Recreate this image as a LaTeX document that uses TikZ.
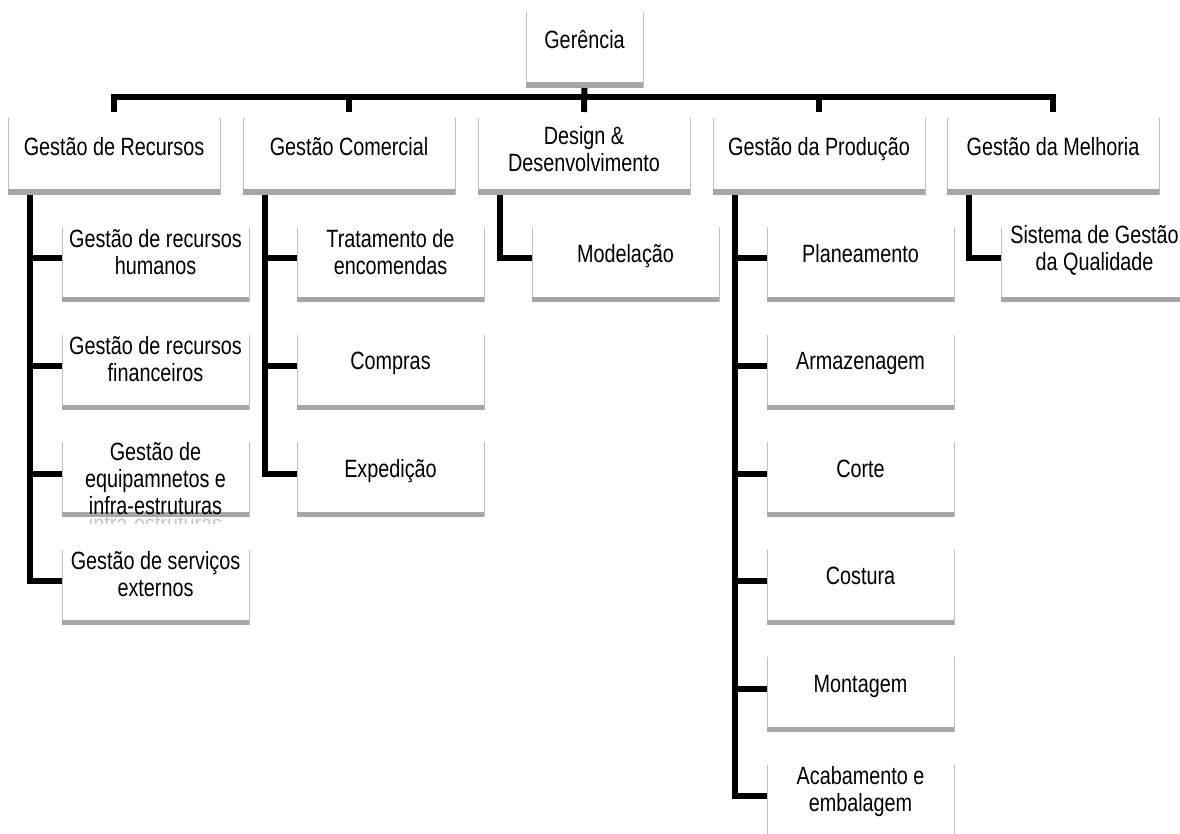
\documentclass[tikz,border=0pt]{standalone}
\usepackage{fontspec}
\setmainfont{Liberation Sans}[FakeStretch=0.792]
\definecolor{barc}{HTML}{A6A6A6}
\definecolor{edgec}{HTML}{C0C0C0}

% box: name, left, top, width, height, bottom-bar thickness, side-edge inset from top
\newcommand\orgbox[7]{%
  \node[boxshape, minimum width=#4pt, minimum height=#5pt] (#1) at ({#2+#4/2},{#3+#5/2}) {};
  \draw[edgeline] ([yshift=-#7pt]#1.north west) -- (#1.south west)
                  ([yshift=-#7pt]#1.north east) -- (#1.south east);
  \fill[barc] (#1.south west) rectangle ([yshift=#6pt]#1.south east);
}
% one text line with a fixed height and depth
\newcommand\tline[1]{\strut\smash{#1}}
% label: name, x centre, baseline of first line, text
\newcommand\orgtext[4]{%
  \node[txt] (#1) at (#2,{#3-18.9}) {#4};
}
% feeder line from a spine to a child box
\newcommand\feed[2]{%
  \coordinate (#2-c) at ([yshift=6pt]#2.west);
  \draw[conn] (#2-c) -- (#1 |- #2-c);
}
\newcommand\lastfeed[2]{%
  \coordinate (#2-c) at ([yshift=6pt]#2.west);
  \draw[conn] (#1) |- (#2-c);
}

\begin{document}
\begin{tikzpicture}[x=1pt,y=-1pt,
  boxshape/.style={rectangle, draw=none, inner sep=0pt, outer sep=0pt},
  edgeline/.style={draw=edgec, line width=1pt},
  conn/.style={draw=black, line width=6pt, line join=miter},
  txt/.style={font=\fontsize{25}{27}\selectfont, align=center, inner sep=0pt, anchor=north},
]
\useasboundingbox (0,0) rectangle (1180,834);
\clip (0,0) rectangle (1180,834);

% top box
\orgbox{gerb}{526}{12}{117}{76}{6}{0}
\orgtext{ger}{584.5}{48}{\tline{Gerência}}

% department boxes
\orgbox{gr}{8}{112}{212}{83}{6}{6}
\orgbox{gc}{243}{112}{212}{83}{6}{6}
\orgbox{dd}{478}{112}{212}{83}{6}{6}
\orgbox{gp}{713}{112}{212}{83}{6}{6}
\orgbox{gm}{947}{112}{212}{83}{6}{6}
\orgtext{gr-t}{114}{155}{\tline{Gestão de Recursos}}
\orgtext{gc-t}{349}{155}{\tline{Gestão Comercial}}
\orgtext{dd-t}{584}{144}{\tline{Design \&}\\\tline{Desenvolvimento}}
\orgtext{gp-t}{819}{155}{\tline{Gestão da Produção}}
\orgtext{gm-t}{1053}{155}{\tline{Gestão da Melhoria}}

% top bus
\coordinate (bus) at (584.5,97.5);
\draw[conn] (gr.north) -- (gr.north |- bus) -- (gm.north |- bus) -- (gm.north);
\draw[conn] (gc.north) -- (gc.north |- bus);
\draw[conn] (gp.north) -- (gp.north |- bus);
\draw[conn] (gerb.south) -- (dd.north);

% Gestão de Recursos
\orgbox{hum}{62}{227}{187}{75}{5}{0}
\orgbox{fin}{62}{334.5}{187}{75}{5}{0}
\orgbox{equ}{62}{442}{187}{75}{5}{0}
\orgbox{ext}{62}{549.5}{187}{75}{5}{0}
\orgtext{hum-t}{155.5}{247}{\tline{Gestão de recursos}\\\tline{humanos}}
\orgtext{fin-t}{155.5}{354.5}{\tline{Gestão de recursos}\\\tline{financeiros}}
\orgtext{equ-t}{155.5}{460}{\tline{Gestão de}\\\tline{equipamnetos e}\\\tline{infra-estruturas}}
\begin{scope}
  \clip (62,517) rectangle (249,523);
  \node[txt, text=black!22] (equ-r) at (155.5,{532-18.9}) {\tline{infra-estruturas}};
\end{scope}
\orgtext{ext-t}{155.5}{569.5}{\tline{Gestão de serviços}\\\tline{externos}}
\coordinate (gr-s) at ([xshift=22pt]gr.south west);
\feed{gr-s}{hum}
\feed{gr-s}{fin}
\feed{gr-s}{equ}
\lastfeed{gr-s}{ext}

% Gestão Comercial
\orgbox{trat}{297}{227}{187}{75}{5}{0}
\orgbox{comp}{297}{334.5}{187}{75}{5}{0}
\orgbox{expd}{297}{442}{187}{75}{5}{0}
\orgtext{trat-t}{390.5}{247}{\tline{Tratamento de}\\\tline{encomendas}}
\orgtext{comp-t}{390.5}{369.5}{\tline{Compras}}
\orgtext{expd-t}{390.5}{477}{\tline{Expedição}}
\coordinate (gc-s) at ([xshift=22pt]gc.south west);
\feed{gc-s}{trat}
\feed{gc-s}{comp}
\lastfeed{gc-s}{expd}

% Design & Desenvolvimento
\orgbox{mod}{532}{227}{187}{75}{5}{0}
\orgtext{mod-t}{625.5}{262}{\tline{Modelação}}
\coordinate (dd-s) at ([xshift=22pt]dd.south west);
\lastfeed{dd-s}{mod}

% Gestão da Produção
\orgbox{plan}{767}{227}{187}{75}{5}{0}
\orgbox{arm}{767}{334.5}{187}{75}{5}{0}
\orgbox{cort}{767}{442}{187}{75}{5}{0}
\orgbox{cost}{767}{549.5}{187}{75}{5}{0}
\orgbox{mont}{767}{657}{187}{75}{5}{0}
\orgbox{acab}{767}{764.5}{187}{75}{5}{0}
\orgtext{plan-t}{860.5}{262}{\tline{Planeamento}}
\orgtext{arm-t}{860.5}{369.5}{\tline{Armazenagem}}
\orgtext{cort-t}{860.5}{477}{\tline{Corte}}
\orgtext{cost-t}{860.5}{584.5}{\tline{Costura}}
\orgtext{mont-t}{860.5}{692}{\tline{Montagem}}
\orgtext{acab-t}{860.5}{784.5}{\tline{Acabamento e}\\\tline{embalagem}}
\coordinate (gp-s) at ([xshift=22pt]gp.south west);
\feed{gp-s}{plan}
\feed{gp-s}{arm}
\feed{gp-s}{cort}
\feed{gp-s}{cost}
\feed{gp-s}{mont}
\lastfeed{gp-s}{acab}

% Gestão da Melhoria
\orgbox{sgq}{1001}{227}{187}{75}{5}{0}
\orgtext{sgq-t}{1094.5}{243}{\tline{Sistema de Gestão}\\\tline{da Qualidade}}
\coordinate (gm-s) at ([xshift=22pt]gm.south west);
\lastfeed{gm-s}{sgq}
\end{tikzpicture}
\end{document}
